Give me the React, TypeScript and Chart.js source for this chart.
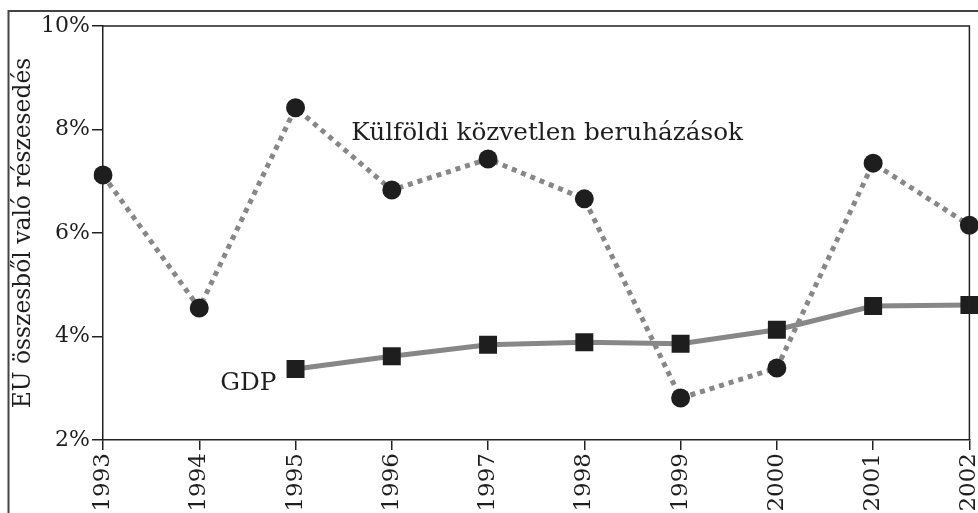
import React, { useEffect, useRef } from 'react';
import { Chart, registerables } from 'chart.js';

Chart.register(...registerables);

const years = ['1993', '1994', '1995', '1996', '1997', '1998', '1999', '2000', '2001', '2002'];
const fdiShare = [7.12, 4.55, 8.42, 6.83, 7.43, 6.66, 2.81, 3.39, 7.35, 6.15];
const gdpShare = [null, null, 3.37, 3.62, 3.84, 3.89, 3.86, 4.13, 4.59, 4.61];
const yMin = 2;
const yMax = 10;
const yStep = 2;
const fdiLabel = 'Külföldi közvetlen beruházások';
const gdpLabel = 'GDP';
const yTitle = 'EU összesből való részesedés';

const FONT = "'DejaVu Serif', serif";
const INK = '#1e1e1e';
const LINE_GRAY = '#878787';

const framePlugin = {
  id: 'frame',
  beforeDraw(chart: any) {
    const ctx = chart.ctx;
    ctx.save();
    ctx.fillStyle = '#ffffff';
    ctx.fillRect(0, 0, chart.width, chart.height);
    ctx.strokeStyle = '#444444';
    ctx.lineWidth = 2;
    ctx.strokeRect(8.5, 11, chart.width + 50, chart.height + 50);
    ctx.restore();
  },
  afterDraw(chart: any) {
    const { ctx, chartArea } = chart;
    ctx.save();
    ctx.strokeStyle = '#222222';
    ctx.lineWidth = 1.5;
    ctx.beginPath();
    ctx.moveTo(chartArea.left, chartArea.top);
    ctx.lineTo(chartArea.right, chartArea.top);
    ctx.lineTo(chartArea.right, chartArea.bottom);
    ctx.stroke();
    ctx.restore();
  },
};

const labelPlugin = {
  id: 'seriesLabels',
  afterDatasetsDraw(chart: any) {
    const { ctx, scales } = chart;
    const xs = scales.x;
    const ys = scales.y;
    ctx.save();
    ctx.font = `24.7px ${FONT}`;
    ctx.fillStyle = INK;
    ctx.textBaseline = 'alphabetic';
    ctx.textAlign = 'left';
    ctx.fillText(fdiLabel, xs.getPixelForValue(2.58), ys.getPixelForValue(7.80));
    ctx.textAlign = 'right';
    ctx.fillText(gdpLabel, xs.getPixelForValue(1.8), ys.getPixelForValue(2.96));
    ctx.restore();
  },
};

export default function App() {
  const ref = useRef<HTMLCanvasElement | null>(null);

  useEffect(() => {
    if (!ref.current) return;
    const chart = new Chart(ref.current, {
      type: 'line',
      data: {
        labels: years,
        datasets: [
          {
            label: gdpLabel,
            data: gdpShare,
            borderColor: LINE_GRAY,
            borderWidth: 5,
            pointStyle: 'rect',
            pointRadius: 12.7,
            pointBackgroundColor: INK,
            pointBorderColor: INK,
            pointBorderWidth: 0,
            tension: 0,
            spanGaps: false,
          },
          {
            label: fdiLabel,
            data: fdiShare,
            borderColor: LINE_GRAY,
            borderWidth: 5,
            borderDash: [5, 5],
            pointStyle: 'circle',
            pointRadius: 9.5,
            pointBackgroundColor: INK,
            pointBorderColor: INK,
            pointBorderWidth: 0,
            tension: 0,
          },
        ],
      },
      options: {
        animation: false,
        responsive: false,
        devicePixelRatio: 1,
        layout: { padding: { left: 8, top: 26, right: 28, bottom: 0 } },
        plugins: {
          legend: { display: false },
          tooltip: { enabled: false },
        },
        scales: {
          x: {
            type: 'category',
            offset: false,
            grid: { drawOnChartArea: false, drawTicks: true, tickLength: 10, color: '#222', lineWidth: 1.5 },
            border: { display: true, color: '#222', width: 1.5 },
            ticks: {
              autoSkip: false,
              maxRotation: 90,
              minRotation: 90,
              padding: 3,
              color: INK,
              font: { family: FONT, size: 23 },
            },
            afterFit(scale: any) {
              scale.height = 90;
            },
          },
          y: {
            min: yMin,
            max: yMax,
            grid: { drawOnChartArea: false, drawTicks: true, tickLength: 11, color: '#222', lineWidth: 1.5 },
            border: { display: true, color: '#222', width: 1.5 },
            ticks: {
              stepSize: yStep,
              padding: 2,
              color: INK,
              font: { family: FONT, size: 22 },
              callback: (v: any) => `${v}%`,
            },
            title: {
              display: true,
              text: yTitle,
              color: INK,
              font: { family: FONT, size: 23.4 },
              padding: { top: 2, bottom: 0 },
            },
            afterFit(scale: any) {
              scale.width = 95;
            },
          },
        },
      },
      plugins: [framePlugin, labelPlugin],
    });
    return () => chart.destroy();
  }, []);

  return (
    <div
      style={{
        position: 'fixed',
        left: 0,
        top: 0,
        width: 978,
        height: 513,
        overflow: 'hidden',
        background: '#fff',
      }}
    >
      <canvas ref={ref} width={1000} height={530} style={{ display: 'block' }} />
    </div>
  );
}
